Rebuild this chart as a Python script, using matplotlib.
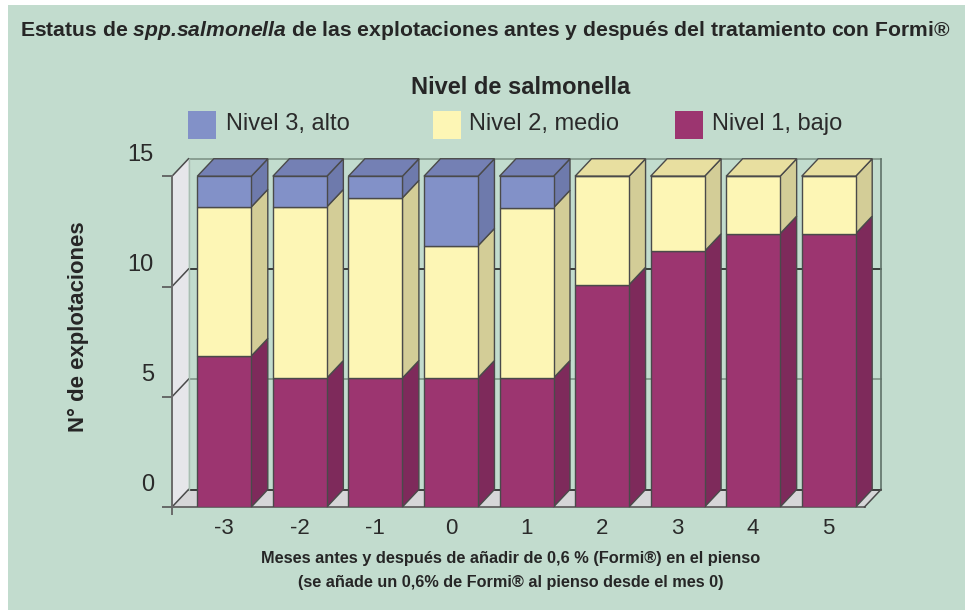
# -*- coding: utf-8 -*-
# Estatus de salmonella, barras apiladas con falso 3D
import matplotlib
matplotlib.use("Agg")
import matplotlib.pyplot as plt
from matplotlib.patches import Polygon, Rectangle
from matplotlib.transforms import ScaledTranslation

meses = ["-3", "-2", "-1", "0", "1", "2", "3", "4", "5"]
nivel1 = [6.85, 5.85, 5.85, 5.85, 5.85, 10.08, 11.6, 12.4, 12.4]
nivel2 = [6.76, 7.76, 8.17, 5.99, 7.72, 4.92, 3.4, 2.6, 2.6]
nivel3 = [1.39, 1.39, 0.98, 3.16, 1.43, 0, 0, 0, 0]

y_ticks = [0, 5, 10, 15]

W, H = 965, 613
FONDO = "#C2DCCE"
LINEA = "#4A4A4A"

plt.rcParams["font.family"] = ["Liberation Sans", "DejaVu Sans"]
plt.rcParams["mathtext.fontset"] = "custom"
plt.rcParams["mathtext.bfit"] = "Liberation Sans:italic:bold"
plt.rcParams["mathtext.rm"] = "Liberation Sans:bold"


def px(x, y):
    return x / W, 1 - y / H


fig = plt.figure(figsize=(W / 100, H / 100), dpi=100, facecolor="white")
fig.add_artist(Rectangle(px(8, 610), (W - 8) / W, 605 / H, transform=fig.transFigure,
                         facecolor=FONDO, edgecolor="none", zorder=-5))

# ejes: plano frontal de las barras, en pixeles del original
left, right, top, bottom = 172, 881, 158, 507
ax = fig.add_axes([left / W, 1 - bottom / H, (right - left) / W, (bottom - top) / H])
u_x = 75.55
u_y = 22.05
ax.set_xlim((left - 224.3) / u_x, (right - 224.3) / u_x)
ax.set_ylim(0, (bottom - top) / u_y)
ax.patch.set_visible(False)
for s in ax.spines.values():
    s.set_visible(False)

dx = 16.5 / u_x
dy = 17.5 / u_y
x0, x1 = ax.get_xlim()
y_max = ax.get_ylim()[1]
x_back = x0 + dx

# pared izquierda y suelo
ax.add_patch(Polygon([(x0, 0), (x_back, dy), (x_back, 15 + dy), (x0, 15)],
                     facecolor="#E6E6EA", edgecolor="none", zorder=1))
ax.add_patch(Polygon([(x0, 0), (x_back, dy), (x1, dy), (x1 - dx, 0)],
                     facecolor="#D6D6D8", edgecolor="none", zorder=1))

# rejilla del fondo y aristas
for v in y_ticks:
    color = "#222222" if v in (0, 10) else "#7F9488"
    ax.plot([x_back, x1], [v + dy, v + dy], color=color, lw=1.2, zorder=2, clip_on=False)
    ax.plot([x0, x_back], [v, v + dy], color=LINEA, lw=1.1, zorder=2, clip_on=False)
ax.plot([x0, x0], [-7 / u_y, 15], color="#6A6A6A", lw=1.4, zorder=2, clip_on=False)
ax.plot([x_back, x_back], [dy, 15 + dy], color="#A9BDB2", lw=1, zorder=2)
ax.plot([x1, x1], [dy, 15 + dy], color="#5F7268", lw=1.2, zorder=2, clip_on=False)
ax.plot([x0, x1 - dx], [0, 0], color="#6A6A6A", lw=1.4, zorder=2, clip_on=False)
ax.plot([x1 - dx, x1], [0, dy], color=LINEA, lw=1.1, zorder=2, clip_on=False)

series = [
    (nivel1, "#9C3570", "#7E2A5B", "#7E2A5B"),
    (nivel2, "#FDF6B5", "#D3CD97", "#E8DFA0"),
    (nivel3, "#8291C8", "#6E7AAC", "#7480B4"),
]
ancho = 54 / u_x
posiciones = list(range(len(meses)))

base = [0.0] * len(meses)
for valores, frente, lado, tapa in series:
    ax.bar(posiciones, valores, width=ancho, bottom=base, color=frente,
           edgecolor=LINEA, linewidth=1, zorder=5)
    for i, v in enumerate(valores):
        if v == 0:
            continue
        xd = i + ancho / 2
        b = base[i]
        ax.add_patch(Polygon([(xd, b), (xd + dx, b + dy), (xd + dx, b + v + dy), (xd, b + v)],
                             facecolor=lado, edgecolor=LINEA, lw=1, zorder=4, clip_on=False))
    base = [b + v for b, v in zip(base, valores)]

# la tapa lleva el color del ultimo tramo de cada barra
for i, total in enumerate(base):
    tapa = series[2][3] if nivel3[i] > 0 else series[1][3]
    xi = i - ancho / 2
    xd = i + ancho / 2
    ax.add_patch(Polygon([(xi, total), (xi + dx, total + dy), (xd + dx, total + dy), (xd, total)],
                         facecolor=tapa, edgecolor=LINEA, lw=1, zorder=4, clip_on=False))

# ticks
ax.set_xticks(posiciones)
ax.set_xticklabels(meses, fontsize=16, color="#2A2A2A")
ax.tick_params(axis="x", length=0, pad=8)
ax.set_yticks(y_ticks)
ax.set_yticklabels([str(v) for v in y_ticks], fontsize=17, color="#2A2A2A")
ax.tick_params(axis="y", length=7, width=1.2, color="#555555", pad=6)
sube = ScaledTranslation(0, 17.4 / 72, fig.dpi_scale_trans)
for lab in ax.get_yticklabels():
    lab.set_transform(lab.get_transform() + sube)

# textos
x, y = px(20, 31)
fig.text(x, y, r"Estatus de $\mathbfit{spp.}\hspace{-0.2}\mathbfit{salmonella}$ de las explotaciones antes y después del tratamiento con Formi®",
         fontsize=15.2, fontweight="bold", color="#262626", va="center", ha="left")
x, y = px(78, 327)
fig.text(x, y, "N° de explotaciones", fontsize=15.9, fontweight="bold", color="#262626",
         rotation=90, ha="center", va="center")
x, y = px(511, 558)
fig.text(x, y, "Meses antes y después de añadir de 0,6 % (Formi®) en el pienso",
         fontsize=11.8, fontweight="bold", color="#262626", ha="center", va="center")
x, y = px(511, 582)
fig.text(x, y, "(se añade un 0,6% de Formi® al pienso desde el mes 0)",
         fontsize=11.7, fontweight="bold", color="#262626", ha="center", va="center")

# leyenda
x, y = px(521, 87)
fig.text(x, y, "Nivel de salmonella", fontsize=17, fontweight="bold", color="#262626",
         ha="center", va="center")
leyenda = [
    ("Nivel 3, alto", series[2][1], 188, 226),
    ("Nivel 2, medio", series[1][1], 433, 469),
    ("Nivel 1, bajo", series[0][1], 675, 712),
]
for nombre, color, xc, xt in leyenda:
    fig.add_artist(Rectangle(px(xc, 139), 28 / W, 28 / H, transform=fig.transFigure,
                             facecolor=color, edgecolor="none"))
    x, y = px(xt, 124)
    fig.text(x, y, nombre, fontsize=17, color="#2A2A2A", ha="left", va="center")

fig.savefig("out.png", dpi=100, facecolor="white")
